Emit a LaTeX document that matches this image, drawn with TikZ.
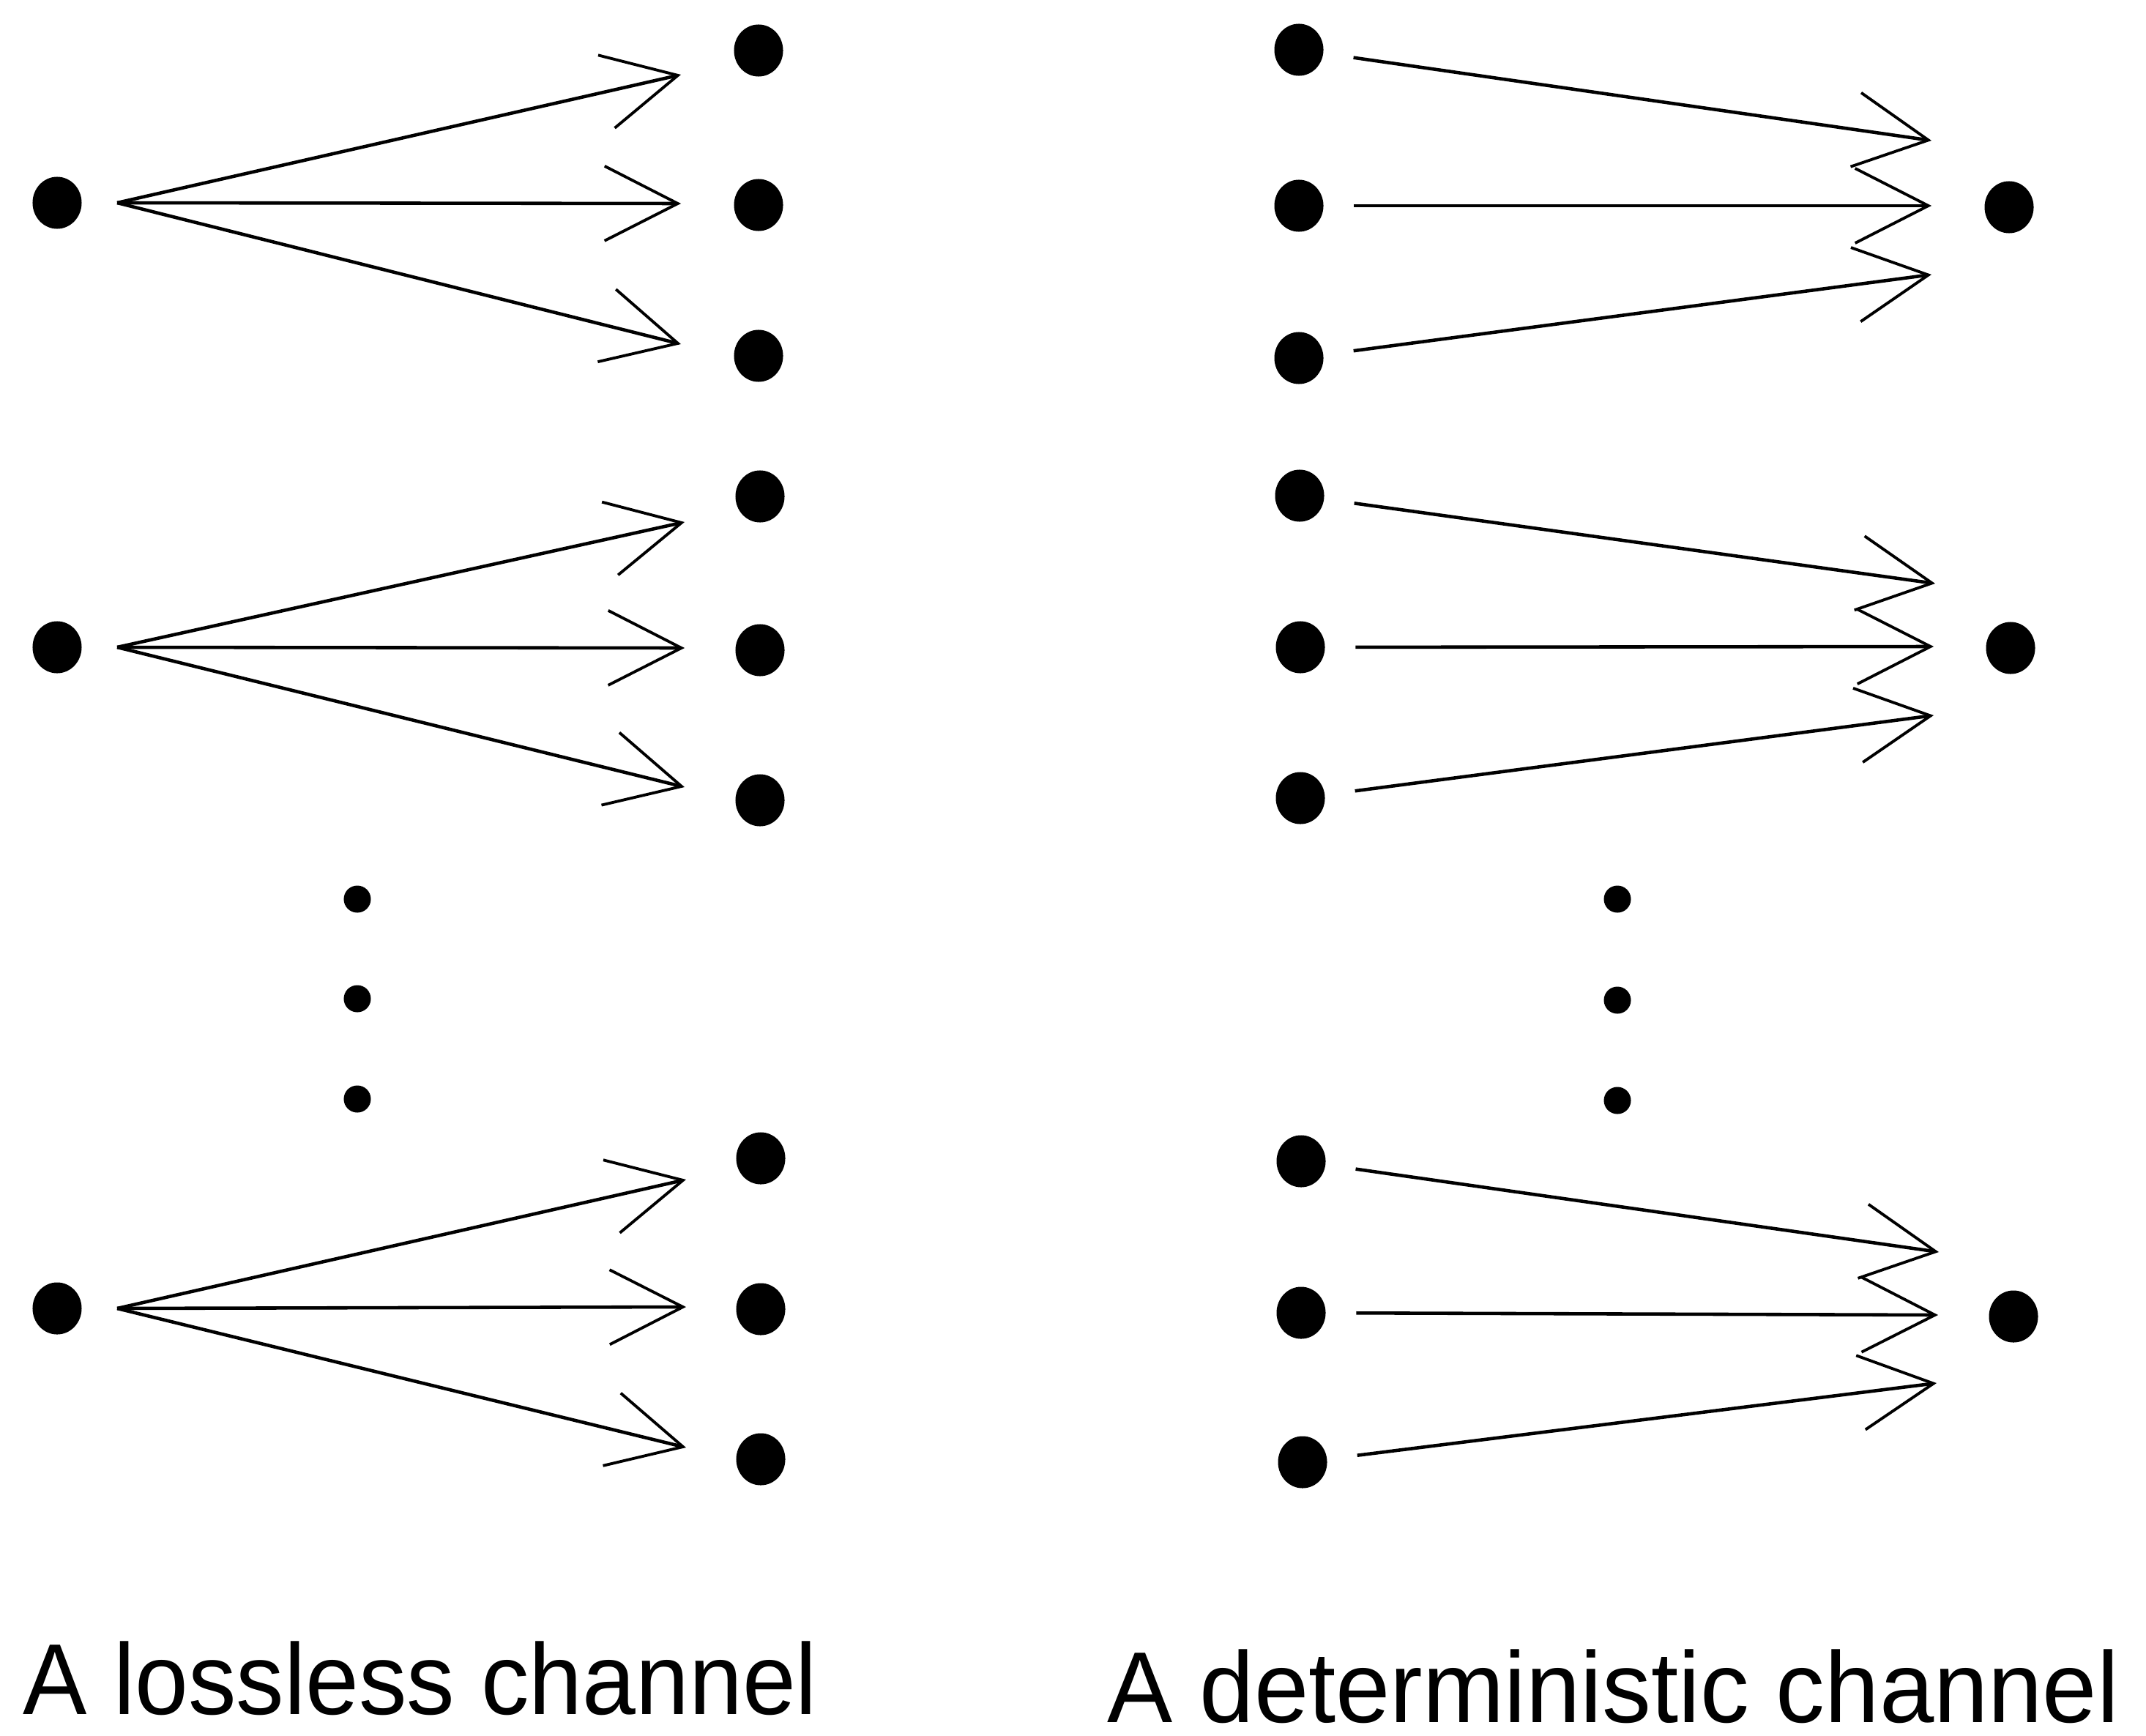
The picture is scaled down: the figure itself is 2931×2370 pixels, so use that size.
\documentclass[tikz,border=0pt]{standalone}
\usepackage{fontspec}
\setmainfont{Liberation Sans}
\usetikzlibrary{arrows.meta,shapes.geometric}

\begin{document}
\begin{tikzpicture}[x=0.01cm,y=-0.01cm,
  bigdot/.style={ellipse,fill=black,inner sep=0pt,minimum width=0.67cm,minimum height=0.71cm},
  smalldot/.style={circle,fill=black,inner sep=0pt,minimum size=0.37cm},
  chan/.style={line width=1.3pt,-{Straight Barb[length=1.0cm,width=1.02cm,line width=1.1pt]}},
  caption/.style={anchor=base west,inner sep=0pt,font=\fontsize{38}{44}\selectfont}]

\useasboundingbox (0,0) rectangle (2931,2370);

% ---------- lossless channel: each input fans out to three outputs ----------
\node[bigdot] (a1) at (78,277) {};
\node[bigdot] (a2) at (78,884) {};
\node[bigdot] (a3) at (78,1787) {};

\node[bigdot] (c11) at (1036,69) {};
\node[bigdot] (c12) at (1036,280) {};
\node[bigdot] (c13) at (1036,486) {};
\node[bigdot] (c21) at (1038,678) {};
\node[bigdot] (c22) at (1038,888) {};
\node[bigdot] (c23) at (1038,1093) {};
\node[bigdot] (c31) at (1039,1582) {};
\node[bigdot] (c32) at (1039,1788) {};
\node[bigdot] (c33) at (1039,1993) {};

% fan origins and arrow tips
\coordinate (a1o) at ([xshift=0.82cm]a1.center);
\coordinate (a2o) at ([xshift=0.82cm]a2.center);
\coordinate (a3o) at ([xshift=0.82cm]a3.center);

\coordinate (c11t) at (930,102);
\coordinate (c12t) at (930,278);
\coordinate (c13t) at (930,470);
\coordinate (c21t) at (935,713);
\coordinate (c22t) at (935,885);
\coordinate (c23t) at (935,1075);
\coordinate (c31t) at (937,1611);
\coordinate (c32t) at (937,1785);
\coordinate (c33t) at (937,1977);

\draw[chan] (a1o) -- (c11t);
\draw[chan] (a1o) -- (c12t);
\draw[chan] (a1o) -- (c13t);
\draw[chan] (a2o) -- (c21t);
\draw[chan] (a2o) -- (c22t);
\draw[chan] (a2o) -- (c23t);
\draw[chan] (a3o) -- (c31t);
\draw[chan] (a3o) -- (c32t);
\draw[chan] (a3o) -- (c33t);

\node[smalldot] (lv1) at (488,1228) {};
\node[smalldot] (lv2) at (488,1364) {};
\node[smalldot] (lv3) at (488,1501) {};

\node[caption] (lcap) at (31,2341) {\raisebox{0pt}[\height][0pt]{\scalebox{0.98}[1.03]{A lossless channel}}};

% ---------- deterministic channel: three inputs merge into one output ----------
\node[bigdot] (d11) at (1774,68) {};
\node[bigdot] (d12) at (1774,281) {};
\node[bigdot] (d13) at (1774,489) {};
\node[bigdot] (d21) at (1775,677) {};
\node[bigdot] (d22) at (1776,884) {};
\node[bigdot] (d23) at (1776,1090) {};
\node[bigdot] (d31) at (1777,1586) {};
\node[bigdot] (d32) at (1777,1793) {};
\node[bigdot] (d33) at (1779,1997) {};

\node[bigdot] (e1) at (2744,283) {};
\node[bigdot] (e2) at (2746,885) {};
\node[bigdot] (e3) at (2750,1798) {};

\coordinate (e11t) at (2638,192);
\coordinate (e12t) at (2638,281);
\coordinate (e13t) at (2638,375);
\coordinate (e21t) at (2643,797);
\coordinate (e22t) at (2641,883);
\coordinate (e23t) at (2641,977);
\coordinate (e31t) at (2648,1710);
\coordinate (e32t) at (2647,1796);
\coordinate (e33t) at (2645,1889);

\begin{scope}[shorten <=0.41cm]
\draw[chan] (d11) -- (e11t);
\draw[chan] (d12) -- (e12t);
\draw[chan] (d13) -- (e13t);
\draw[chan] (d21) -- (e21t);
\draw[chan] (d22) -- (e22t);
\draw[chan] (d23) -- (e23t);
\draw[chan] (d31) -- (e31t);
\draw[chan] (d32) -- (e32t);
\draw[chan] (d33) -- (e33t);
\end{scope}

\node[smalldot] (rv1) at (2209,1228) {};
\node[smalldot] (rv2) at (2209,1366) {};
\node[smalldot] (rv3) at (2209,1503) {};

\node[caption] (rcap) at (1512,2352) {\raisebox{0pt}[\height][0pt]{\scalebox{1.0}[1.03]{A deterministic channel}}};

\end{tikzpicture}
\end{document}
